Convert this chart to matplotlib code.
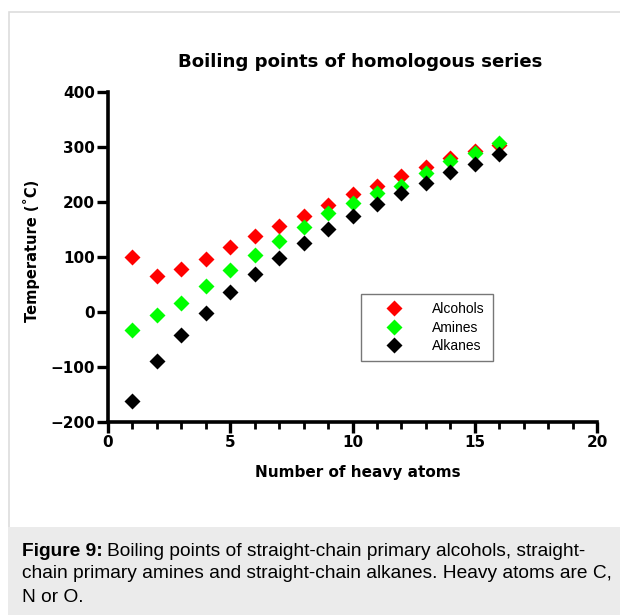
import matplotlib
matplotlib.use("Agg")
import matplotlib.pyplot as plt
from matplotlib.patches import Rectangle
from matplotlib.ticker import MultipleLocator

# boiling points (deg C) against number of heavy atoms
heavy_atoms = list(range(1, 17))
alcohols = [100, 65, 78, 97, 118, 138, 157, 175, 194, 214, 230, 247, 264, 280, 293, 303]
amines = [-33, -6, 17, 48, 77, 104, 130, 154, 180, 198, 217, 229, 253, 274, 289, 307]
alkanes = [-162, -89, -42, -1, 36, 69, 98, 126, 151, 174, 196, 216, 235, 254, 270, 287]

series_names = ["Alcohols", "Amines", "Alkanes"]
series_colors = ["#ff0000", "#00ff00", "#000000"]

W, H = 620, 615
fig = plt.figure(figsize=(W / 100, H / 100), dpi=100)


def px(x, y):
    return x / W, 1 - y / H


# panel frame and caption strip
fig.patches.append(Rectangle((8.5 / W, 0), 1, 1 - 11.5 / H, transform=fig.transFigure,
                             facecolor="white", edgecolor="#dddddd", lw=1.2, zorder=0))
fig.patches.append(Rectangle((8 / W, 0), 1, (H - 527) / H, transform=fig.transFigure,
                             facecolor="#ebebeb", edgecolor="none", zorder=1))

ax = fig.add_axes([108 / W, (H - 422) / H, 489 / W, 330 / H])
ax.set_zorder(2)
ax.set_facecolor("none")
for ys, name, c in zip([alcohols, amines, alkanes], series_names, series_colors):
    ax.plot(heavy_atoms, ys, "D", color=c, ms=7.8, mec="none", label=name, clip_on=False)

ax.set_xlim(0, 20)
ax.set_ylim(-200, 400)
ax.xaxis.set_major_locator(MultipleLocator(5))
ax.xaxis.set_minor_locator(MultipleLocator(1))
ax.yaxis.set_major_locator(MultipleLocator(100))
for s in ["top", "right"]:
    ax.spines[s].set_visible(False)
for s in ["left", "bottom"]:
    ax.spines[s].set_linewidth(2.6)
ax.tick_params(which="major", length=8, width=2.4, labelsize=11, pad=1.5)
ax.tick_params(which="minor", length=5, width=2.0)
for lab in ax.get_xticklabels() + ax.get_yticklabels():
    lab.set_fontweight("bold")

fig.text(*px(360, 62), "Boiling points of homologous series", ha="center", va="center",
         fontsize=13.1, fontweight="bold")
fig.text(*px(358, 472), "Number of heavy atoms", ha="center", va="center",
         fontsize=11, fontweight="bold")
fig.text(*px(31, 251), "Temperature (˚C)", ha="center", va="center", rotation=90,
         fontsize=10.5, fontweight="bold")

leg = ax.legend(loc="upper left", bbox_to_anchor=px(361, 294), bbox_transform=fig.transFigure,
                frameon=True, fancybox=False, borderpad=0.6, handletextpad=1.0,
                labelspacing=0.3, handlelength=3.5, borderaxespad=0,
                prop={"family": "Liberation Sans", "size": 10})
leg.get_frame().set_edgecolor("#555555")
leg.get_frame().set_linewidth(1.0)

# caption with bold lead-in
renderer = fig.canvas.get_renderer()
cap_font = {"family": "Liberation Sans", "size": 13.8}
lead = fig.text(*px(22, 551), "Figure 9:", va="center", fontweight="bold", zorder=3, **cap_font)
lead_w = lead.get_window_extent(renderer).width
fig.text(22 / W + (lead_w + 4) / W, 1 - 551 / H,
         "Boiling points of straight-chain primary alcohols, straight-",
         va="center", zorder=3, **cap_font)
fig.text(*px(22, 574), "chain primary amines and straight-chain alkanes. Heavy atoms are C,",
         va="center", zorder=3, **cap_font)
fig.text(*px(22, 597), "N or O.", va="center", zorder=3, **cap_font)

fig.savefig("out.png", dpi=100)
